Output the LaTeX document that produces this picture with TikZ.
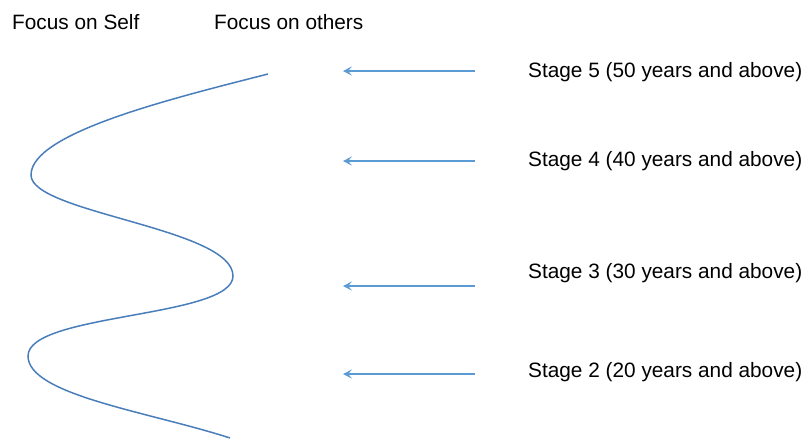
\documentclass[tikz,border=0pt]{standalone}
\usepackage{fontspec}
\setmainfont{Liberation Sans}
\usetikzlibrary{arrows.meta}
\definecolor{arrowblue}{HTML}{5B9BD5}
\definecolor{curveblue}{HTML}{4A7EBB}
\begin{document}
\begin{tikzpicture}[x=1pt,y=-1pt,
  lbl/.style={anchor=west,inner sep=0pt,font=\fontsize{20.8}{24}\selectfont},
  pointer/.style={draw=arrowblue,line width=1.6pt,-{Stealth[length=9pt,width=9pt,inset=4pt]}},
  wave/.style={draw=curveblue,line width=1.5pt}]
\useasboundingbox (0,0) rectangle (803,440);
% column headings
\node[lbl] (self) at (12,22) {Focus on Self};
\node[lbl] (others) at (214,22) {Focus on others};
% stage labels
\node[lbl] (s5) at (528,72) {Stage 5 (50 years and above)};
\node[lbl] (s4) at (528,161) {Stage 4 (40 years and above)};
\node[lbl] (s3) at (528,273) {Stage 3 (30 years and above)};
\node[lbl] (s2) at (528,372) {Stage 2 (20 years and above)};
% arrow end points
\coordinate (t5) at (475,71);  \coordinate (h5) at (343,71);
\coordinate (t4) at (475,161); \coordinate (h4) at (343,161);
\coordinate (t3) at (475,286); \coordinate (h3) at (343,286);
\coordinate (t2) at (475,374); \coordinate (h2) at (343,374);
\draw[pointer] (t5) -- (h5);
\draw[pointer] (t4) -- (h4);
\draw[pointer] (t3) -- (h3);
\draw[pointer] (t2) -- (h2);
% the wave between self and others
\coordinate (w0) at (268,74);
\coordinate (w1) at (31,175);
\coordinate (w2) at (233,276);
\coordinate (w3) at (28,356);
\coordinate (w4) at (230,438);
\draw[wave] (w0) .. controls (170,99) and (31,133) .. (w1)
  .. controls (31,213) and (233,228) .. (w2)
  .. controls (233,318) and (28,313) .. (w3)
  .. controls (28,395) and (150,412) .. (w4);
\end{tikzpicture}
\end{document}
